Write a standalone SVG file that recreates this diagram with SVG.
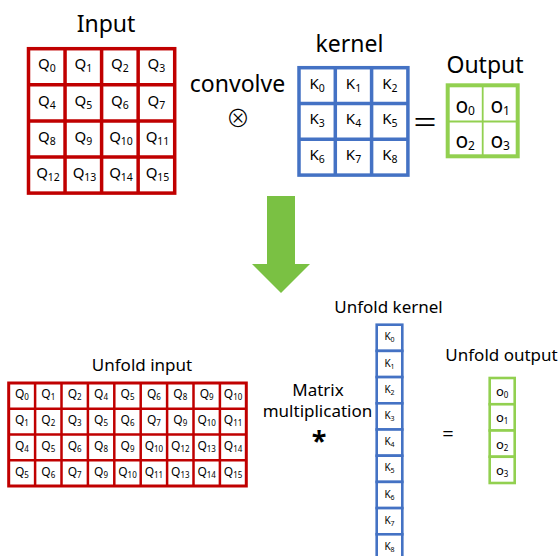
<svg xmlns="http://www.w3.org/2000/svg" width="560" height="556" viewBox="0 0 560 556">
<style>
.t{font-family:"Noto Sans","Open Sans",sans-serif;fill:#000}
.lbl{font-size:17px;text-anchor:middle}
.big{font-size:23px;text-anchor:middle}
.q{font-size:15px;text-anchor:middle}
.qs{font-size:12px;text-anchor:middle}
.k2{font-size:10px;text-anchor:middle}
.o{font-size:21px;text-anchor:middle}
.o2{font-size:13px;text-anchor:middle}
.red{fill:#fff;stroke:#C00000;stroke-width:3.5}
.redl{stroke:#C00000;stroke-width:3.5}
.red2{fill:#fff;stroke:#C00000;stroke-width:3}
.redl2{stroke:#C00000;stroke-width:2.5}
.blue{fill:#fff;stroke:#4472C4;stroke-width:3.5}
.bluel{stroke:#4472C4;stroke-width:3.5}
.blue2{fill:#fff;stroke:#4472C4;stroke-width:2.6}
.green{fill:#fff;stroke:#92D050;stroke-width:4}
.greenl{stroke:#92D050;stroke-width:1.8}
.green2{fill:#fff;stroke:#92D050;stroke-width:2.6}
</style>
<rect width="560" height="556" fill="#fff"/>

<g id="input">
<text class="t big" x="106" y="32" font-size="24">Input</text>
<rect class="red" x="28.5" y="48.7" width="146.2" height="144.4"/>
<path class="redl" d="M65.05 48.7V193.1M101.6 48.7V193.1M138.15 48.7V193.1M28.5 84.8H174.7M28.5 120.9H174.7M28.5 157H174.7"/>
<text class="t q" x="46.8" y="69">Q<tspan font-size="10.5" dy="3">0</tspan></text>
<text class="t q" x="83.3" y="69">Q<tspan font-size="10.5" dy="3">1</tspan></text>
<text class="t q" x="119.9" y="69">Q<tspan font-size="10.5" dy="3">2</tspan></text>
<text class="t q" x="156.4" y="69">Q<tspan font-size="10.5" dy="3">3</tspan></text>
<text class="t q" x="46.8" y="106">Q<tspan font-size="10.5" dy="3">4</tspan></text>
<text class="t q" x="83.3" y="106">Q<tspan font-size="10.5" dy="3">5</tspan></text>
<text class="t q" x="119.9" y="106">Q<tspan font-size="10.5" dy="3">6</tspan></text>
<text class="t q" x="156.4" y="106">Q<tspan font-size="10.5" dy="3">7</tspan></text>
<text class="t q" x="46.8" y="142">Q<tspan font-size="10.5" dy="3">8</tspan></text>
<text class="t q" x="83.3" y="142">Q<tspan font-size="10.5" dy="3">9</tspan></text>
<text class="t q" x="121" y="142">Q<tspan font-size="10.5" dy="3">10</tspan></text>
<text class="t q" x="157.5" y="142">Q<tspan font-size="10.5" dy="3">11</tspan></text>
<text class="t q" x="48" y="178">Q<tspan font-size="10.5" dy="3">12</tspan></text>
<text class="t q" x="84.5" y="178">Q<tspan font-size="10.5" dy="3">13</tspan></text>
<text class="t q" x="121" y="178">Q<tspan font-size="10.5" dy="3">14</tspan></text>
<text class="t q" x="157.5" y="178">Q<tspan font-size="10.5" dy="3">15</tspan></text>
</g>

<g id="convolve">
<text class="t big" x="237.5" y="92" font-size="25">convolve</text>
<text x="238" y="127" font-family="Noto Sans CJK JP,DejaVu Sans,sans-serif" font-size="24" font-weight="300" text-anchor="middle" fill="#000">⊗</text>
</g>

<g id="kernel">
<text class="t big" x="349.5" y="52" font-size="22">kernel</text>
<rect class="blue" x="299" y="67.7" width="108.9" height="107.4"/>
<path class="bluel" d="M335.3 67.7V175.1M371.6 67.7V175.1M299 103.5H407.9M299 139.3H407.9"/>
<text class="t q" x="317.2" y="88.6">K<tspan font-size="10.5" dy="3">0</tspan></text>
<text class="t q" x="353.5" y="88.6">K<tspan font-size="10.5" dy="3">1</tspan></text>
<text class="t q" x="389.8" y="88.6">K<tspan font-size="10.5" dy="3">2</tspan></text>
<text class="t q" x="317.2" y="124.4">K<tspan font-size="10.5" dy="3">3</tspan></text>
<text class="t q" x="353.5" y="124.4">K<tspan font-size="10.5" dy="3">4</tspan></text>
<text class="t q" x="389.8" y="124.4">K<tspan font-size="10.5" dy="3">5</tspan></text>
<text class="t q" x="317.2" y="160.2">K<tspan font-size="10.5" dy="3">6</tspan></text>
<text class="t q" x="353.5" y="160.2">K<tspan font-size="10.5" dy="3">7</tspan></text>
<text class="t q" x="389.8" y="160.2">K<tspan font-size="10.5" dy="3">8</tspan></text>
</g>

<g id="equals-top">
<text x="425" y="132" font-family="Noto Sans CJK SC,sans-serif" font-size="26" text-anchor="middle" fill="#000">＝</text>
</g>

<g id="output">
<text class="t big" x="485" y="73">Output</text>
<rect class="green" x="447.7" y="85.3" width="70" height="71"/>
<path class="greenl" d="M482.7 85.3V156.3M447.7 121.5H517.7"/>
<text class="t o" x="465.2" y="112.5">o<tspan font-size="12" dy="2">0</tspan></text>
<text class="t o" x="500.2" y="112.5">o<tspan font-size="12" dy="2">1</tspan></text>
<text class="t o" x="465.2" y="148">o<tspan font-size="12" dy="2">2</tspan></text>
<text class="t o" x="500.2" y="148">o<tspan font-size="12" dy="2">3</tspan></text>
</g>

<g id="connectors">
<polygon points="267,196 295,196 295,264 310,264 281,293 252,264 267,264" fill="#7AC143"/>
</g>

<g id="unfold-input">
<text class="t lbl" x="142" y="371">Unfold input</text>
<rect class="red2" x="8.7" y="383" width="237.6" height="103"/>
<path class="redl2" d="M35.1 383V486M61.5 383V486M87.9 383V486M114.3 383V486M140.7 383V486M167.1 383V486M193.5 383V486M219.9 383V486M8.7 408.75H246.3M8.7 434.5H246.3M8.7 460.25H246.3"/>
<g class="t qs">
<text x="21.9" y="398.4">Q<tspan font-size="8" dy="2">0</tspan></text>
<text x="48.3" y="398.4">Q<tspan font-size="8" dy="2">1</tspan></text>
<text x="74.7" y="398.4">Q<tspan font-size="8" dy="2">2</tspan></text>
<text x="101.1" y="398.4">Q<tspan font-size="8" dy="2">4</tspan></text>
<text x="127.5" y="398.4">Q<tspan font-size="8" dy="2">5</tspan></text>
<text x="153.9" y="398.4">Q<tspan font-size="8" dy="2">6</tspan></text>
<text x="180.3" y="398.4">Q<tspan font-size="8" dy="2">8</tspan></text>
<text x="206.7" y="398.4">Q<tspan font-size="8" dy="2">9</tspan></text>
<text x="233.1" y="398.4">Q<tspan font-size="8" dy="2">10</tspan></text>
<text x="21.9" y="424.1">Q<tspan font-size="8" dy="2">1</tspan></text>
<text x="48.3" y="424.1">Q<tspan font-size="8" dy="2">2</tspan></text>
<text x="74.7" y="424.1">Q<tspan font-size="8" dy="2">3</tspan></text>
<text x="101.1" y="424.1">Q<tspan font-size="8" dy="2">5</tspan></text>
<text x="127.5" y="424.1">Q<tspan font-size="8" dy="2">6</tspan></text>
<text x="153.9" y="424.1">Q<tspan font-size="8" dy="2">7</tspan></text>
<text x="180.3" y="424.1">Q<tspan font-size="8" dy="2">9</tspan></text>
<text x="206.7" y="424.1">Q<tspan font-size="8" dy="2">10</tspan></text>
<text x="233.1" y="424.1">Q<tspan font-size="8" dy="2">11</tspan></text>
<text x="21.9" y="449.9">Q<tspan font-size="8" dy="2">4</tspan></text>
<text x="48.3" y="449.9">Q<tspan font-size="8" dy="2">5</tspan></text>
<text x="74.7" y="449.9">Q<tspan font-size="8" dy="2">6</tspan></text>
<text x="101.1" y="449.9">Q<tspan font-size="8" dy="2">8</tspan></text>
<text x="127.5" y="449.9">Q<tspan font-size="8" dy="2">9</tspan></text>
<text x="153.9" y="449.9">Q<tspan font-size="8" dy="2">10</tspan></text>
<text x="180.3" y="449.9">Q<tspan font-size="8" dy="2">12</tspan></text>
<text x="206.7" y="449.9">Q<tspan font-size="8" dy="2">13</tspan></text>
<text x="233.1" y="449.9">Q<tspan font-size="8" dy="2">14</tspan></text>
<text x="21.9" y="475.6">Q<tspan font-size="8" dy="2">5</tspan></text>
<text x="48.3" y="475.6">Q<tspan font-size="8" dy="2">6</tspan></text>
<text x="74.7" y="475.6">Q<tspan font-size="8" dy="2">7</tspan></text>
<text x="101.1" y="475.6">Q<tspan font-size="8" dy="2">9</tspan></text>
<text x="127.5" y="475.6">Q<tspan font-size="8" dy="2">10</tspan></text>
<text x="153.9" y="475.6">Q<tspan font-size="8" dy="2">11</tspan></text>
<text x="180.3" y="475.6">Q<tspan font-size="8" dy="2">13</tspan></text>
<text x="206.7" y="475.6">Q<tspan font-size="8" dy="2">14</tspan></text>
<text x="233.1" y="475.6">Q<tspan font-size="8" dy="2">15</tspan></text>
</g>
</g>

<g id="matmul">
<text class="t lbl" x="318" y="396">Matrix</text>
<text class="t lbl" x="317.5" y="417">multiplication</text>
<text class="t" x="319" y="451" font-size="27" font-weight="bold" text-anchor="middle">*</text>
</g>

<g id="unfold-kernel">
<text class="t lbl" x="388.5" y="313">Unfold kernel</text>
<rect class="blue2" x="376.7" y="324.7" width="25.6" height="26.2"/>
<rect class="blue2" x="376.7" y="350.9" width="25.6" height="26.2"/>
<rect class="blue2" x="376.7" y="377.1" width="25.6" height="26.2"/>
<rect class="blue2" x="376.7" y="403.3" width="25.6" height="26.2"/>
<rect class="blue2" x="376.7" y="429.5" width="25.6" height="26.2"/>
<rect class="blue2" x="376.7" y="455.7" width="25.6" height="26.2"/>
<rect class="blue2" x="376.7" y="481.9" width="25.6" height="26.2"/>
<rect class="blue2" x="376.7" y="508.1" width="25.6" height="26.2"/>
<rect class="blue2" x="376.7" y="534.3" width="25.6" height="26.2"/>
<g class="t k2">
<text x="389.5" y="340.3">K<tspan font-size="7" dy="2">0</tspan></text>
<text x="389.5" y="366.5">K<tspan font-size="7" dy="2">1</tspan></text>
<text x="389.5" y="392.7">K<tspan font-size="7" dy="2">2</tspan></text>
<text x="389.5" y="418.9">K<tspan font-size="7" dy="2">3</tspan></text>
<text x="389.5" y="445.1">K<tspan font-size="7" dy="2">4</tspan></text>
<text x="389.5" y="471.3">K<tspan font-size="7" dy="2">5</tspan></text>
<text x="389.5" y="497.5">K<tspan font-size="7" dy="2">6</tspan></text>
<text x="389.5" y="523.7">K<tspan font-size="7" dy="2">7</tspan></text>
<text x="389.5" y="549.9">K<tspan font-size="7" dy="2">8</tspan></text>
</g>
</g>

<g id="equals-bottom">
<text class="t" x="448" y="441" font-size="20" text-anchor="middle">=</text>
</g>

<g id="unfold-output">
<text class="t lbl" x="501.5" y="361">Unfold output</text>
<rect class="green2" x="489.7" y="378" width="25" height="26.25"/>
<rect class="green2" x="489.7" y="404.25" width="25" height="26.25"/>
<rect class="green2" x="489.7" y="430.5" width="25" height="26.25"/>
<rect class="green2" x="489.7" y="456.75" width="25" height="26.25"/>
<g class="t o2">
<text x="502.2" y="396.1">o<tspan font-size="8" dy="2">0</tspan></text>
<text x="502.2" y="422.4">o<tspan font-size="8" dy="2">1</tspan></text>
<text x="502.2" y="448.6">o<tspan font-size="8" dy="2">2</tspan></text>
<text x="502.2" y="474.9">o<tspan font-size="8" dy="2">3</tspan></text>
</g>
</g>
</svg>
